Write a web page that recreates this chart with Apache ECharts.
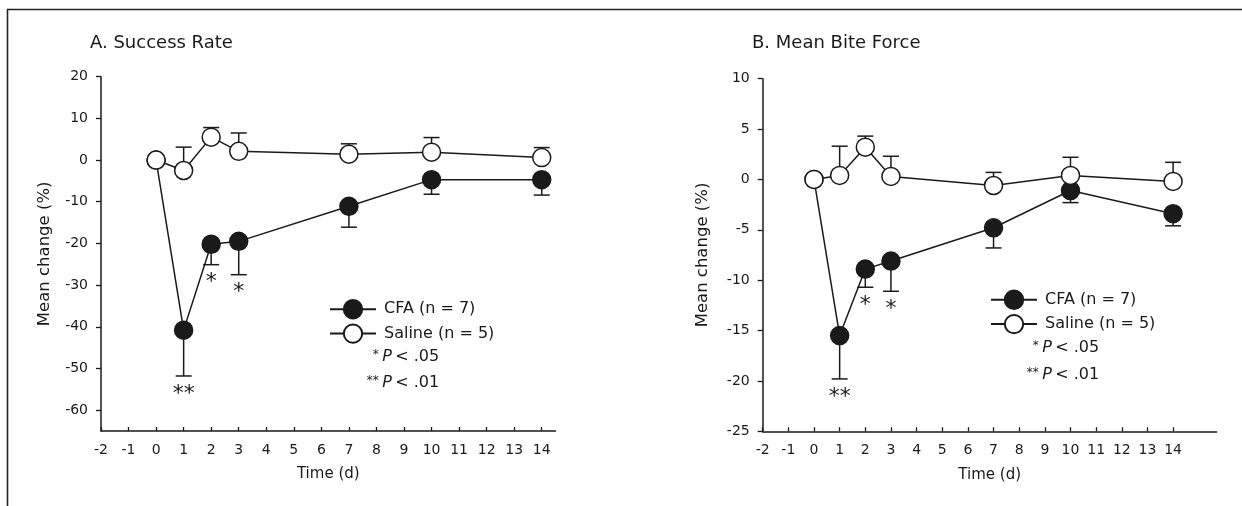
<!DOCTYPE html>
<html><head><meta charset="utf-8">
<script src="https://cdn.jsdelivr.net/npm/echarts@6/dist/echarts.min.js"></script>
<style>html,body{margin:0;padding:0;background:#fff}#c{width:1242px;height:506px}</style>
</head><body><div id="c"></div>
<script>
// ---- data ----
const days = [0, 1, 2, 3, 7, 10, 14];
const xTickLabels = [-2, -1, 0, 1, 2, 3, 4, 5, 6, 7, 8, 9, 10, 11, 12, 13, 14];

// A. Success Rate (% change)
const cfaA = [0, -40.8, -20.2, -19.5, -11.1, -4.7, -4.7];
const cfaSemA = [0, 11.0, 4.9, 8.0, 5.0, 3.5, 3.7];
const salA = [0, -2.5, 5.5, 2.1, 1.4, 1.9, 0.6];
const salSemA = [0, 5.6, 2.3, 4.4, 2.5, 3.5, 2.4];
const sigA = ['', '**', '*', '*', '', '', ''];
const yTicksA = [-60, -50, -40, -30, -20, -10, 0, 10, 20];

// B. Mean Bite Force (% change)
const cfaB = [0, -15.5, -8.9, -8.1, -4.8, -1.1, -3.4];
const cfaSemB = [0, 4.3, 1.8, 3.0, 2.0, 1.2, 1.2];
const salB = [0, 0.4, 3.2, 0.3, -0.6, 0.4, -0.2];
const salSemB = [0, 2.9, 1.1, 2.0, 1.3, 1.8, 1.9];
const sigB = ['', '**', '*', '*', '', '', ''];
const yTicksB = [-25, -20, -15, -10, -5, 0, 5, 10];

const names = ['CFA (n = 7)', 'Saline (n = 5)'];
const FONT = 'DejaVu Sans';
const INK = '#1a1a1a';

// ---- helpers ----
function pairs(vals) { return days.map((d, i) => [d, vals[i]]); }
function errData(vals, sems, dir) { return days.map((d, i) => [d, vals[i], sems[i], dir]); }

function errRender(params, api) {
  const x = api.value(0), m = api.value(1), e = api.value(2), d = api.value(3);
  if (!e) return null;
  const p0 = api.coord([x, m]);
  const p1 = api.coord([x, m + d * e]);
  const hw = 8;
  const st = { stroke: INK, lineWidth: 1.5 };
  return { type: 'group', children: [
    { type: 'line', shape: { x1: p0[0], y1: p0[1], x2: p1[0], y2: p1[1] }, style: st },
    { type: 'line', shape: { x1: p1[0] - hw, y1: p1[1], x2: p1[0] + hw, y2: p1[1] }, style: st }
  ]};
}
function starRender(sig) {
  return function (params, api) {
    const s = sig[params.dataIndex];
    if (!s) return null;
    const p = api.coord([api.value(0), api.value(1) - api.value(2)]);
    return { type: 'text', x: p[0], y: p[1] + 18,
      style: { text: s, fontSize: 22, fontFamily: FONT, fill: INK, align: 'center', verticalAlign: 'middle' } };
  };
}

function xAxis(idx, max) {
  return {
    type: 'value', gridIndex: idx, min: -2, max: max,
    name: 'Time (d)', nameLocation: 'middle', nameGap: 36,
    nameTextStyle: { fontSize: 15, fontFamily: FONT, color: INK },
    axisLine: { show: true, onZero: false, lineStyle: { color: INK, width: 1.5 } },
    axisTick: { show: true, inside: true, length: 4, customValues: xTickLabels, lineStyle: { color: INK, width: 1.3 } },
    axisLabel: { customValues: xTickLabels, margin: 12, fontSize: 14, fontFamily: FONT, color: INK },
    splitLine: { show: false }
  };
}
function yAxis(idx, min, max, ticks, gap) {
  return {
    type: 'value', gridIndex: idx, min: min, max: max,
    name: 'Mean change (%)', nameLocation: 'middle', nameGap: gap, nameRotate: 90,
    nameTextStyle: { fontSize: 16.5, fontFamily: FONT, color: INK },
    axisLine: { show: true, onZero: false, lineStyle: { color: INK, width: 1.5 } },
    axisTick: { show: true, length: 5, customValues: ticks, lineStyle: { color: INK, width: 1.3 } },
    axisLabel: { customValues: ticks, margin: 13, fontSize: 14, fontFamily: FONT, color: INK },
    splitLine: { show: false }
  };
}
function lineSeries(name, idx, vals, filled, z) {
  return {
    type: 'line', name: name, xAxisIndex: idx, yAxisIndex: idx, data: pairs(vals),
    symbol: 'circle', symbolSize: 18, z: z,
    lineStyle: { color: INK, width: 1.5 },
    itemStyle: { color: filled ? INK : '#fff', borderColor: INK, borderWidth: 1.5 },
    emphasis: { disabled: true }, animation: false
  };
}
function panelSeries(idx, cfa, cfaSem, sal, salSem, sig) {
  return [
    { type: 'custom', xAxisIndex: idx, yAxisIndex: idx, data: errData(cfa, cfaSem, -1), renderItem: errRender, z: 1, silent: true },
    { type: 'custom', xAxisIndex: idx, yAxisIndex: idx, data: errData(sal, salSem, 1), renderItem: errRender, z: 1, silent: true },
    lineSeries(names[0], idx, cfa, true, 2),
    lineSeries(names[1], idx, sal, false, 3),
    { type: 'custom', xAxisIndex: idx, yAxisIndex: idx, data: days.map((d, i) => [d, cfa[i], cfaSem[i]]),
      renderItem: starRender(sig), z: 4, silent: true }
  ];
}
function legend(left, top) {
  return {
    data: names, orient: 'vertical', left: left, top: top, padding: 0,
    itemWidth: 46, itemHeight: 23, itemGap: 4, selectedMode: false,
    textStyle: { fontSize: 16, fontFamily: FONT, color: INK, padding: [0, 0, 0, 3] }
  };
}
function note(cx, y, stars, p) {
  return {
    type: 'text', x: cx, y: y,
    style: {
      text: '{s|' + stars + '} {p|P} {t|< ' + p + '}',
      align: 'center', verticalAlign: 'middle', fill: INK,
      rich: {
        s: { fontSize: 12, fontFamily: FONT, fill: INK, verticalAlign: 'top', padding: [0, 0, 4, 0] },
        p: { fontSize: 16, fontFamily: FONT, fontStyle: 'italic', fill: INK },
        t: { fontSize: 16, fontFamily: FONT, fill: INK }
      }
    }
  };
}

const chart = echarts.init(document.getElementById('c'), null, { renderer: 'canvas' });
chart.setOption({
  animation: false,
  backgroundColor: '#fff',
  title: [
    { text: 'A. Success Rate', left: 90, top: 34, padding: 0, textStyle: { fontSize: 18, fontWeight: 'normal', fontFamily: FONT, color: INK } },
    { text: 'B. Mean Bite Force', left: 752, top: 34, padding: 0, textStyle: { fontSize: 18, fontWeight: 'normal', fontFamily: FONT, color: INK } }
  ],
  legend: [legend(329, 299), legend(990, 289.5)],
  grid: [
    { left: 101, top: 76.7, width: 454.5, height: 354.3 },
    { left: 762.7, top: 78.7, width: 454, height: 352.6 }
  ],
  xAxis: [xAxis(0, 14.5), xAxis(1, 15.7)],
  yAxis: [yAxis(0, -65, 20, yTicksA, 48), yAxis(1, -25, 10, yTicksB, 51)],
  series: [].concat(
    panelSeries(0, cfaA, cfaSemA, salA, salSemA, sigA),
    panelSeries(1, cfaB, cfaSemB, salB, salSemB, sigB)
  ),
  graphic: [
    { type: 'polyline', shape: { points: [[7.5, 506], [7.5, 9.5], [1242, 9.5]] }, style: { stroke: '#222', lineWidth: 1.6, fill: null } },
    note(406, 356.7, '*', '.05'),
    note(403, 383.3, '**', '.01'),
    note(1066, 348.3, '*', '.05'),
    note(1063, 375, '**', '.01')
  ]
});
</script>
</body></html>
